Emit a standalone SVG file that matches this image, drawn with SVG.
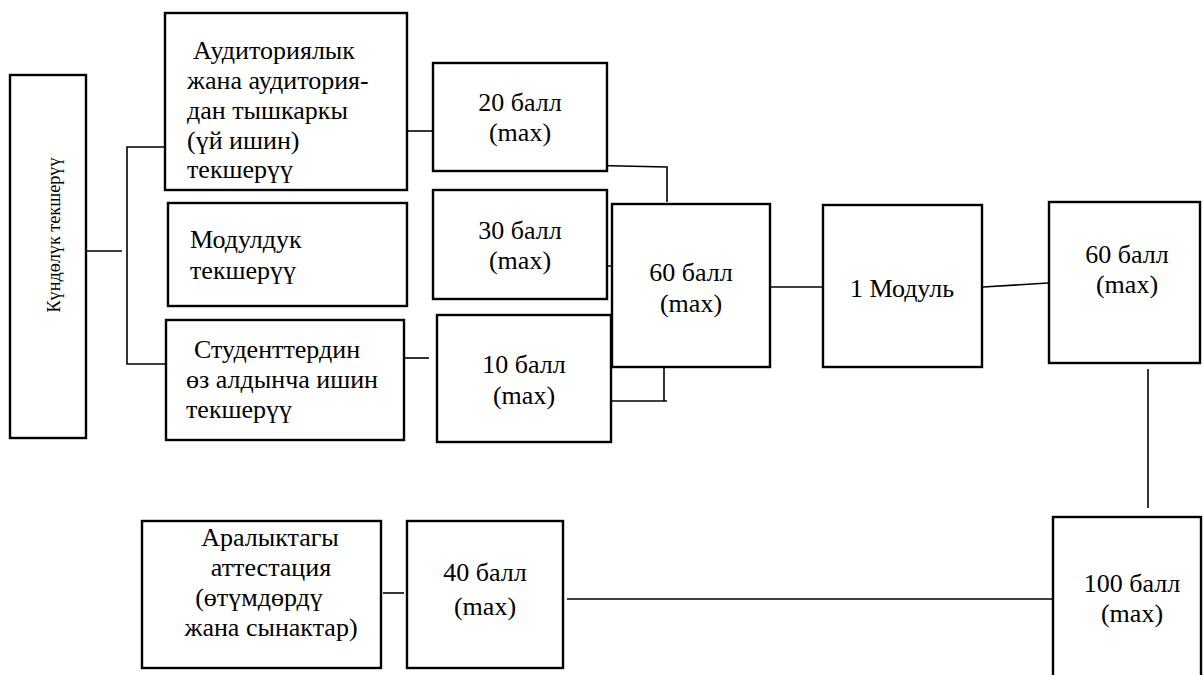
<svg xmlns="http://www.w3.org/2000/svg" width="1203" height="675" viewBox="0 0 1203 675">
<style>
.box{fill:#fff;stroke:#000;stroke-width:2.4}
.ln{fill:none;stroke:#000;stroke-width:1.6}
text{font-family:'Liberation Serif','Times New Roman',serif;font-size:26px;fill:#000}
.c{text-anchor:middle}
.s18{font-size:18px}
</style>
<rect width="1203" height="675" fill="#fff"/>
<g id="connectors">
<path class="ln" d="M86 251H122"/>
<path class="ln" d="M165 147H127V364H166"/>
<path class="ln" d="M405 131H433"/>
<path class="ln" d="M575 165L667 167V202"/>
<path class="ln" d="M564 266H615M598 267V282"/>
<path class="ln" d="M405 358H429"/>
<path class="ln" d="M567 401H667M664 364V401"/>
<path class="ln" d="M770 287H823"/>
<path class="ln" d="M983 287L1048 283"/>
<path class="ln" d="M1148 369V508"/>
<path class="ln" d="M383 593H404"/>
<path class="ln" d="M567 599H1053"/>
</g>
<g id="n-kundoluk">
<rect class="box" x="10" y="75" width="76" height="363"/>
<text class="c s18" transform="translate(60,235) rotate(-90)" textLength="155" lengthAdjust="spacingAndGlyphs">Күндөлүк текшерүү</text>
</g>
<g id="n-auditoria">
<rect class="box" x="165" y="13" width="242" height="177"/>
<text x="193" y="59">Аудиториялык</text>
<text x="187" y="89">жана аудитория-</text>
<text x="187" y="119">дан тышкаркы</text>
<text x="187" y="149">(үй ишин)</text>
<text x="187" y="178">текшерүү</text>
</g>
<g id="n-modul">
<rect class="box" x="168" y="203" width="239" height="103"/>
<text x="190" y="248">Модулдук</text>
<text x="190" y="279">текшерүү</text>
</g>
<g id="n-student">
<rect class="box" x="166" y="320" width="238" height="120"/>
<text x="194" y="358">Студенттердин</text>
<text x="186" y="388">өз алдынча ишин</text>
<text x="186" y="418">текшерүү</text>
</g>
<g id="n-20">
<rect class="box" x="433" y="63" width="174" height="108"/>
<text class="c" x="520" y="111">20 балл</text>
<text class="c" x="520" y="141">(max)</text>
</g>
<g id="n-30">
<rect class="box" x="433" y="190" width="174" height="109"/>
<text class="c" x="520" y="239">30 балл</text>
<text class="c" x="520" y="269">(max)</text>
</g>
<g id="n-10">
<rect class="box" x="437" y="315" width="174" height="127"/>
<text class="c" x="524" y="373">10 балл</text>
<text class="c" x="524" y="404">(max)</text>
</g>
<g id="n-60a">
<rect class="box" x="612" y="204" width="158" height="163"/>
<text class="c" x="691" y="281">60 балл</text>
<text class="c" x="691" y="312">(max)</text>
</g>
<g id="n-modul1">
<rect class="box" x="823" y="205" width="159" height="162"/>
<text class="c" x="902" y="297">1 Модуль</text>
</g>
<g id="n-60b">
<rect class="box" x="1049" y="202" width="151" height="161"/>
<text class="c" x="1127" y="263">60 балл</text>
<text class="c" x="1127" y="293">(max)</text>
</g>
<g id="n-100">
<rect class="box" x="1053" y="517" width="148" height="175"/>
<text class="c" x="1132" y="592">100 балл</text>
<text class="c" x="1132" y="622">(max)</text>
</g>
<g id="n-aralyk">
<rect class="box" x="142" y="521" width="239" height="147"/>
<text class="c" x="270" y="546">Аралыктагы</text>
<text class="c" x="271" y="576">аттестация</text>
<text class="c" x="259" y="606">(өтүмдөрдү</text>
<text class="c" x="271" y="636">жана сынактар)</text>
</g>
<g id="n-40">
<rect class="box" x="407" y="521" width="156" height="147"/>
<text class="c" x="485" y="581">40 балл</text>
<text class="c" x="485" y="615">(max)</text>
</g>
</svg>
